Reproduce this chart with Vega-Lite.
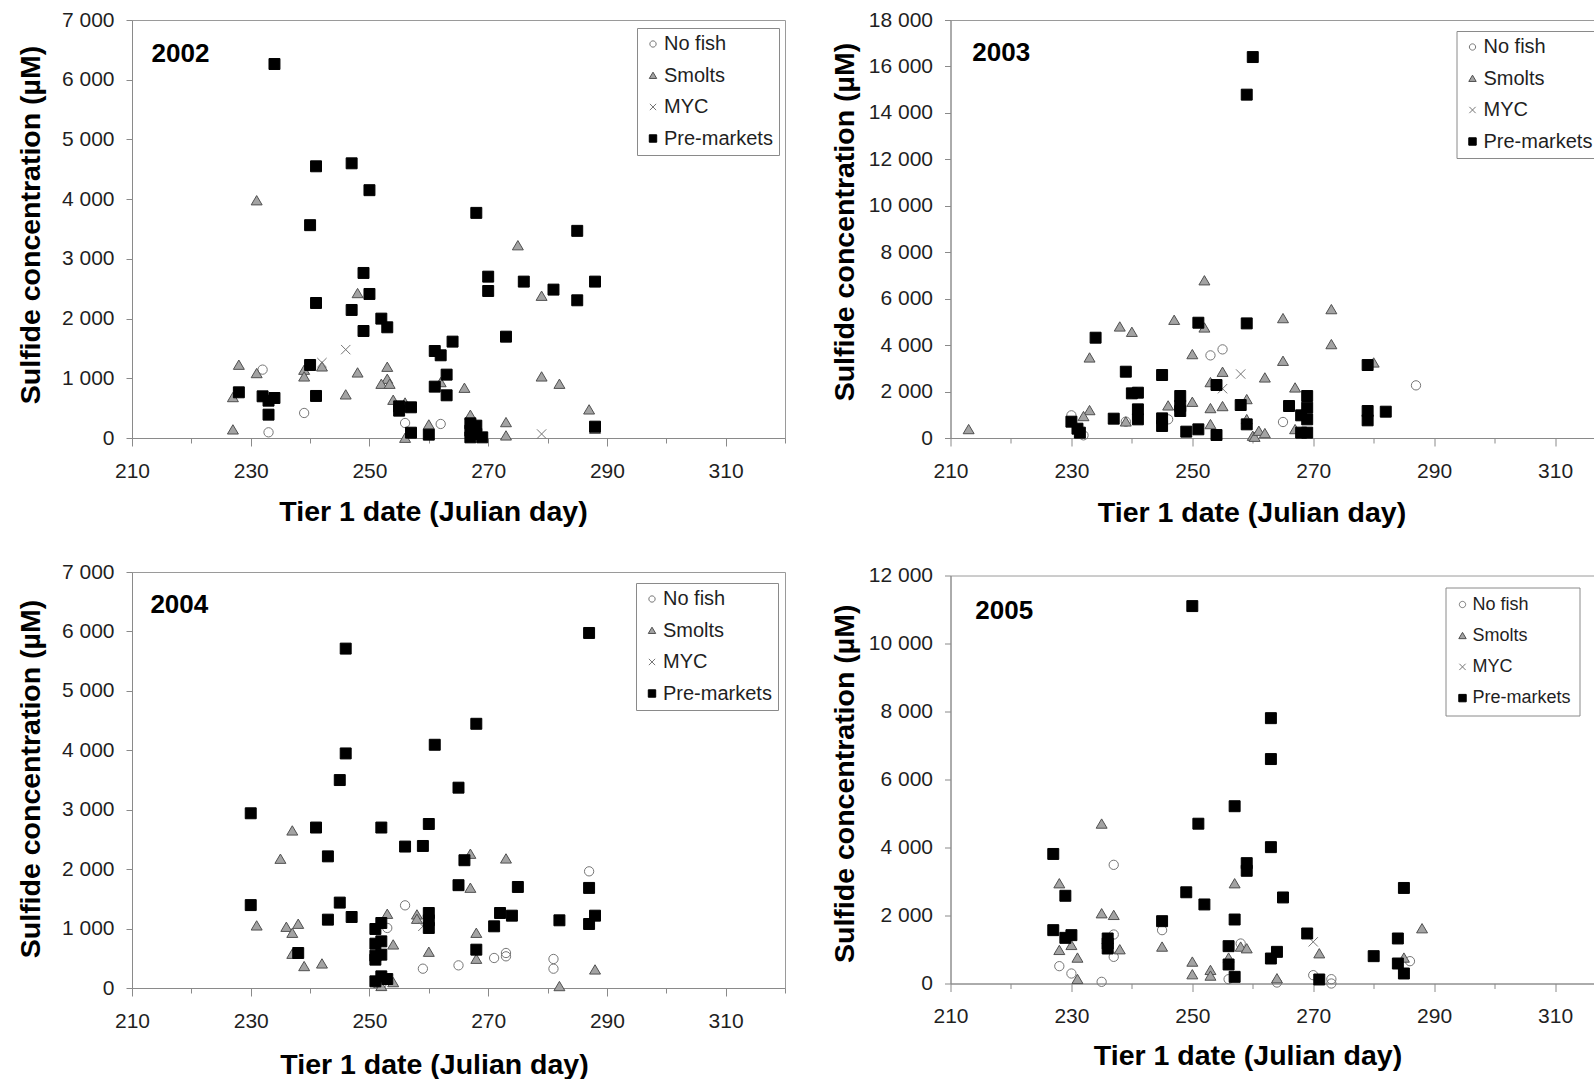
{
  "$schema": "https://vega.github.io/schema/vega-lite/v6.json",
  "background": "white",
  "padding": {"left": 15, "top": 8, "right": 0, "bottom": 0},
  "data": {
    "values": [
      {"year": 2002, "group": "No fish", "day": 232, "sulfide": 1145},
      {"year": 2002, "group": "No fish", "day": 233, "sulfide": 95},
      {"year": 2002, "group": "No fish", "day": 239, "sulfide": 419},
      {"year": 2002, "group": "No fish", "day": 256, "sulfide": 251},
      {"year": 2002, "group": "No fish", "day": 262, "sulfide": 235},
      {"year": 2002, "group": "Smolts", "day": 231, "sulfide": 3977},
      {"year": 2002, "group": "Smolts", "day": 275, "sulfide": 3224},
      {"year": 2002, "group": "Smolts", "day": 228, "sulfide": 1223},
      {"year": 2002, "group": "Smolts", "day": 227, "sulfide": 681},
      {"year": 2002, "group": "Smolts", "day": 227, "sulfide": 140},
      {"year": 2002, "group": "Smolts", "day": 231, "sulfide": 1083},
      {"year": 2002, "group": "Smolts", "day": 239, "sulfide": 1139},
      {"year": 2002, "group": "Smolts", "day": 239, "sulfide": 1027},
      {"year": 2002, "group": "Smolts", "day": 242, "sulfide": 1195},
      {"year": 2002, "group": "Smolts", "day": 248, "sulfide": 2423},
      {"year": 2002, "group": "Smolts", "day": 248, "sulfide": 1094},
      {"year": 2002, "group": "Smolts", "day": 246, "sulfide": 726},
      {"year": 2002, "group": "Smolts", "day": 253, "sulfide": 1189},
      {"year": 2002, "group": "Smolts", "day": 253, "sulfide": 988},
      {"year": 2002, "group": "Smolts", "day": 252, "sulfide": 904},
      {"year": 2002, "group": "Smolts", "day": 253.4, "sulfide": 904},
      {"year": 2002, "group": "Smolts", "day": 254, "sulfide": 636},
      {"year": 2002, "group": "Smolts", "day": 256, "sulfide": 590},
      {"year": 2002, "group": "Smolts", "day": 256, "sulfide": 0},
      {"year": 2002, "group": "Smolts", "day": 260, "sulfide": 223},
      {"year": 2002, "group": "Smolts", "day": 262, "sulfide": 932},
      {"year": 2002, "group": "Smolts", "day": 266, "sulfide": 837},
      {"year": 2002, "group": "Smolts", "day": 267, "sulfide": 385},
      {"year": 2002, "group": "Smolts", "day": 273, "sulfide": 262},
      {"year": 2002, "group": "Smolts", "day": 273, "sulfide": 39},
      {"year": 2002, "group": "Smolts", "day": 279, "sulfide": 2378},
      {"year": 2002, "group": "Smolts", "day": 279, "sulfide": 1027},
      {"year": 2002, "group": "Smolts", "day": 282, "sulfide": 904},
      {"year": 2002, "group": "Smolts", "day": 287, "sulfide": 475},
      {"year": 2002, "group": "Smolts", "day": 288, "sulfide": 151},
      {"year": 2002, "group": "MYC", "day": 246, "sulfide": 1480},
      {"year": 2002, "group": "MYC", "day": 242, "sulfide": 1262},
      {"year": 2002, "group": "MYC", "day": 279, "sulfide": 67},
      {"year": 2002, "group": "Pre-markets", "day": 234, "sulfide": 6263},
      {"year": 2002, "group": "Pre-markets", "day": 241, "sulfide": 4550},
      {"year": 2002, "group": "Pre-markets", "day": 247, "sulfide": 4600},
      {"year": 2002, "group": "Pre-markets", "day": 250, "sulfide": 4150},
      {"year": 2002, "group": "Pre-markets", "day": 240, "sulfide": 3564},
      {"year": 2002, "group": "Pre-markets", "day": 268, "sulfide": 3770},
      {"year": 2002, "group": "Pre-markets", "day": 285, "sulfide": 3469},
      {"year": 2002, "group": "Pre-markets", "day": 249, "sulfide": 2764},
      {"year": 2002, "group": "Pre-markets", "day": 250, "sulfide": 2412},
      {"year": 2002, "group": "Pre-markets", "day": 241, "sulfide": 2261},
      {"year": 2002, "group": "Pre-markets", "day": 247, "sulfide": 2144},
      {"year": 2002, "group": "Pre-markets", "day": 252, "sulfide": 1999},
      {"year": 2002, "group": "Pre-markets", "day": 253, "sulfide": 1854},
      {"year": 2002, "group": "Pre-markets", "day": 249, "sulfide": 1792},
      {"year": 2002, "group": "Pre-markets", "day": 270, "sulfide": 2702},
      {"year": 2002, "group": "Pre-markets", "day": 270, "sulfide": 2462},
      {"year": 2002, "group": "Pre-markets", "day": 276, "sulfide": 2619},
      {"year": 2002, "group": "Pre-markets", "day": 281, "sulfide": 2485},
      {"year": 2002, "group": "Pre-markets", "day": 285, "sulfide": 2306},
      {"year": 2002, "group": "Pre-markets", "day": 288, "sulfide": 2619},
      {"year": 2002, "group": "Pre-markets", "day": 273, "sulfide": 1697},
      {"year": 2002, "group": "Pre-markets", "day": 264, "sulfide": 1614},
      {"year": 2002, "group": "Pre-markets", "day": 261, "sulfide": 1457},
      {"year": 2002, "group": "Pre-markets", "day": 262, "sulfide": 1385},
      {"year": 2002, "group": "Pre-markets", "day": 263, "sulfide": 1061},
      {"year": 2002, "group": "Pre-markets", "day": 261, "sulfide": 860},
      {"year": 2002, "group": "Pre-markets", "day": 263, "sulfide": 715},
      {"year": 2002, "group": "Pre-markets", "day": 240, "sulfide": 1223},
      {"year": 2002, "group": "Pre-markets", "day": 241, "sulfide": 704},
      {"year": 2002, "group": "Pre-markets", "day": 228, "sulfide": 765},
      {"year": 2002, "group": "Pre-markets", "day": 232, "sulfide": 698},
      {"year": 2002, "group": "Pre-markets", "day": 233, "sulfide": 625},
      {"year": 2002, "group": "Pre-markets", "day": 234, "sulfide": 670},
      {"year": 2002, "group": "Pre-markets", "day": 233, "sulfide": 391},
      {"year": 2002, "group": "Pre-markets", "day": 255, "sulfide": 530},
      {"year": 2002, "group": "Pre-markets", "day": 255, "sulfide": 458},
      {"year": 2002, "group": "Pre-markets", "day": 257, "sulfide": 514},
      {"year": 2002, "group": "Pre-markets", "day": 257, "sulfide": 89},
      {"year": 2002, "group": "Pre-markets", "day": 260, "sulfide": 56},
      {"year": 2002, "group": "Pre-markets", "day": 267, "sulfide": 246},
      {"year": 2002, "group": "Pre-markets", "day": 267, "sulfide": 123},
      {"year": 2002, "group": "Pre-markets", "day": 267, "sulfide": 11},
      {"year": 2002, "group": "Pre-markets", "day": 268, "sulfide": 207},
      {"year": 2002, "group": "Pre-markets", "day": 268, "sulfide": 67},
      {"year": 2002, "group": "Pre-markets", "day": 269, "sulfide": 11},
      {"year": 2002, "group": "Pre-markets", "day": 288, "sulfide": 190},

      {"year": 2003, "group": "No fish", "day": 230, "sulfide": 976},
      {"year": 2003, "group": "No fish", "day": 231, "sulfide": 373},
      {"year": 2003, "group": "No fish", "day": 232, "sulfide": 115},
      {"year": 2003, "group": "No fish", "day": 239, "sulfide": 703},
      {"year": 2003, "group": "No fish", "day": 246, "sulfide": 803},
      {"year": 2003, "group": "No fish", "day": 253, "sulfide": 3558},
      {"year": 2003, "group": "No fish", "day": 255, "sulfide": 3816},
      {"year": 2003, "group": "No fish", "day": 265, "sulfide": 689},
      {"year": 2003, "group": "No fish", "day": 287, "sulfide": 2267},
      {"year": 2003, "group": "Smolts", "day": 213, "sulfide": 373},
      {"year": 2003, "group": "Smolts", "day": 233, "sulfide": 3458},
      {"year": 2003, "group": "Smolts", "day": 233, "sulfide": 1191},
      {"year": 2003, "group": "Smolts", "day": 232, "sulfide": 933},
      {"year": 2003, "group": "Smolts", "day": 238, "sulfide": 4792},
      {"year": 2003, "group": "Smolts", "day": 240, "sulfide": 4562},
      {"year": 2003, "group": "Smolts", "day": 239, "sulfide": 703},
      {"year": 2003, "group": "Smolts", "day": 247, "sulfide": 5079},
      {"year": 2003, "group": "Smolts", "day": 246, "sulfide": 1392},
      {"year": 2003, "group": "Smolts", "day": 250, "sulfide": 3601},
      {"year": 2003, "group": "Smolts", "day": 250, "sulfide": 1549},
      {"year": 2003, "group": "Smolts", "day": 252, "sulfide": 6780},
      {"year": 2003, "group": "Smolts", "day": 252, "sulfide": 4749},
      {"year": 2003, "group": "Smolts", "day": 253, "sulfide": 2396},
      {"year": 2003, "group": "Smolts", "day": 253, "sulfide": 1277},
      {"year": 2003, "group": "Smolts", "day": 253, "sulfide": 588},
      {"year": 2003, "group": "Smolts", "day": 255, "sulfide": 2841},
      {"year": 2003, "group": "Smolts", "day": 255, "sulfide": 1363},
      {"year": 2003, "group": "Smolts", "day": 259, "sulfide": 1664},
      {"year": 2003, "group": "Smolts", "day": 259, "sulfide": 803},
      {"year": 2003, "group": "Smolts", "day": 260, "sulfide": 86},
      {"year": 2003, "group": "Smolts", "day": 260.3, "sulfide": 43},
      {"year": 2003, "group": "Smolts", "day": 261, "sulfide": 301},
      {"year": 2003, "group": "Smolts", "day": 262, "sulfide": 201},
      {"year": 2003, "group": "Smolts", "day": 262, "sulfide": 2597},
      {"year": 2003, "group": "Smolts", "day": 265, "sulfide": 5151},
      {"year": 2003, "group": "Smolts", "day": 265, "sulfide": 3314},
      {"year": 2003, "group": "Smolts", "day": 267, "sulfide": 2166},
      {"year": 2003, "group": "Smolts", "day": 267, "sulfide": 373},
      {"year": 2003, "group": "Smolts", "day": 273, "sulfide": 5538},
      {"year": 2003, "group": "Smolts", "day": 273, "sulfide": 4032},
      {"year": 2003, "group": "Smolts", "day": 280, "sulfide": 3242},
      {"year": 2003, "group": "MYC", "day": 258, "sulfide": 2755},
      {"year": 2003, "group": "MYC", "day": 255, "sulfide": 2123},
      {"year": 2003, "group": "Pre-markets", "day": 260, "sulfide": 16404},
      {"year": 2003, "group": "Pre-markets", "day": 259, "sulfide": 14785},
      {"year": 2003, "group": "Pre-markets", "day": 234, "sulfide": 4319},
      {"year": 2003, "group": "Pre-markets", "day": 239, "sulfide": 2855},
      {"year": 2003, "group": "Pre-markets", "day": 245, "sulfide": 2712},
      {"year": 2003, "group": "Pre-markets", "day": 240, "sulfide": 1923},
      {"year": 2003, "group": "Pre-markets", "day": 241, "sulfide": 1951},
      {"year": 2003, "group": "Pre-markets", "day": 241, "sulfide": 1234},
      {"year": 2003, "group": "Pre-markets", "day": 241, "sulfide": 803},
      {"year": 2003, "group": "Pre-markets", "day": 237, "sulfide": 832},
      {"year": 2003, "group": "Pre-markets", "day": 230, "sulfide": 703},
      {"year": 2003, "group": "Pre-markets", "day": 231, "sulfide": 402},
      {"year": 2003, "group": "Pre-markets", "day": 231.4, "sulfide": 230},
      {"year": 2003, "group": "Pre-markets", "day": 245, "sulfide": 846},
      {"year": 2003, "group": "Pre-markets", "day": 245, "sulfide": 517},
      {"year": 2003, "group": "Pre-markets", "day": 248, "sulfide": 1808},
      {"year": 2003, "group": "Pre-markets", "day": 248, "sulfide": 1377},
      {"year": 2003, "group": "Pre-markets", "day": 248, "sulfide": 1162},
      {"year": 2003, "group": "Pre-markets", "day": 249, "sulfide": 273},
      {"year": 2003, "group": "Pre-markets", "day": 251, "sulfide": 373},
      {"year": 2003, "group": "Pre-markets", "day": 251, "sulfide": 4964},
      {"year": 2003, "group": "Pre-markets", "day": 254, "sulfide": 2281},
      {"year": 2003, "group": "Pre-markets", "day": 254, "sulfide": 129},
      {"year": 2003, "group": "Pre-markets", "day": 259, "sulfide": 4935},
      {"year": 2003, "group": "Pre-markets", "day": 258, "sulfide": 1420},
      {"year": 2003, "group": "Pre-markets", "day": 259, "sulfide": 588},
      {"year": 2003, "group": "Pre-markets", "day": 266, "sulfide": 1377},
      {"year": 2003, "group": "Pre-markets", "day": 268, "sulfide": 976},
      {"year": 2003, "group": "Pre-markets", "day": 268, "sulfide": 230},
      {"year": 2003, "group": "Pre-markets", "day": 269, "sulfide": 1808},
      {"year": 2003, "group": "Pre-markets", "day": 269, "sulfide": 1306},
      {"year": 2003, "group": "Pre-markets", "day": 269, "sulfide": 803},
      {"year": 2003, "group": "Pre-markets", "day": 269, "sulfide": 230},
      {"year": 2003, "group": "Pre-markets", "day": 279, "sulfide": 3142},
      {"year": 2003, "group": "Pre-markets", "day": 279, "sulfide": 1162},
      {"year": 2003, "group": "Pre-markets", "day": 279, "sulfide": 760},
      {"year": 2003, "group": "Pre-markets", "day": 282, "sulfide": 1133},

      {"year": 2004, "group": "No fish", "day": 256, "sulfide": 1391},
      {"year": 2004, "group": "No fish", "day": 253, "sulfide": 1010},
      {"year": 2004, "group": "No fish", "day": 259, "sulfide": 325},
      {"year": 2004, "group": "No fish", "day": 265, "sulfide": 381},
      {"year": 2004, "group": "No fish", "day": 271, "sulfide": 505},
      {"year": 2004, "group": "No fish", "day": 273, "sulfide": 589},
      {"year": 2004, "group": "No fish", "day": 273, "sulfide": 533},
      {"year": 2004, "group": "No fish", "day": 281, "sulfide": 488},
      {"year": 2004, "group": "No fish", "day": 281, "sulfide": 325},
      {"year": 2004, "group": "No fish", "day": 287, "sulfide": 1963},
      {"year": 2004, "group": "No fish", "day": 251, "sulfide": 84},
      {"year": 2004, "group": "No fish", "day": 252, "sulfide": 56},
      {"year": 2004, "group": "Smolts", "day": 237, "sulfide": 2647},
      {"year": 2004, "group": "Smolts", "day": 235, "sulfide": 2171},
      {"year": 2004, "group": "Smolts", "day": 267, "sulfide": 2255},
      {"year": 2004, "group": "Smolts", "day": 273, "sulfide": 2176},
      {"year": 2004, "group": "Smolts", "day": 267, "sulfide": 1683},
      {"year": 2004, "group": "Smolts", "day": 231, "sulfide": 1049},
      {"year": 2004, "group": "Smolts", "day": 236, "sulfide": 1026},
      {"year": 2004, "group": "Smolts", "day": 238, "sulfide": 1077},
      {"year": 2004, "group": "Smolts", "day": 237, "sulfide": 925},
      {"year": 2004, "group": "Smolts", "day": 237, "sulfide": 572},
      {"year": 2004, "group": "Smolts", "day": 239, "sulfide": 365},
      {"year": 2004, "group": "Smolts", "day": 242, "sulfide": 409},
      {"year": 2004, "group": "Smolts", "day": 253, "sulfide": 1245},
      {"year": 2004, "group": "Smolts", "day": 258, "sulfide": 1234},
      {"year": 2004, "group": "Smolts", "day": 258, "sulfide": 1161},
      {"year": 2004, "group": "Smolts", "day": 254, "sulfide": 729},
      {"year": 2004, "group": "Smolts", "day": 260, "sulfide": 606},
      {"year": 2004, "group": "Smolts", "day": 268, "sulfide": 925},
      {"year": 2004, "group": "Smolts", "day": 268, "sulfide": 488},
      {"year": 2004, "group": "Smolts", "day": 282, "sulfide": 28},
      {"year": 2004, "group": "Smolts", "day": 288, "sulfide": 308},
      {"year": 2004, "group": "Smolts", "day": 254, "sulfide": 95},
      {"year": 2004, "group": "Smolts", "day": 252, "sulfide": 30},
      {"year": 2004, "group": "MYC", "day": 259, "sulfide": 1038},
      {"year": 2004, "group": "Pre-markets", "day": 287, "sulfide": 5974},
      {"year": 2004, "group": "Pre-markets", "day": 246, "sulfide": 5711},
      {"year": 2004, "group": "Pre-markets", "day": 268, "sulfide": 4446},
      {"year": 2004, "group": "Pre-markets", "day": 261, "sulfide": 4093},
      {"year": 2004, "group": "Pre-markets", "day": 246, "sulfide": 3947},
      {"year": 2004, "group": "Pre-markets", "day": 245, "sulfide": 3499},
      {"year": 2004, "group": "Pre-markets", "day": 265, "sulfide": 3371},
      {"year": 2004, "group": "Pre-markets", "day": 230, "sulfide": 2940},
      {"year": 2004, "group": "Pre-markets", "day": 260, "sulfide": 2760},
      {"year": 2004, "group": "Pre-markets", "day": 241, "sulfide": 2700},
      {"year": 2004, "group": "Pre-markets", "day": 252, "sulfide": 2700},
      {"year": 2004, "group": "Pre-markets", "day": 256, "sulfide": 2380},
      {"year": 2004, "group": "Pre-markets", "day": 259, "sulfide": 2390},
      {"year": 2004, "group": "Pre-markets", "day": 243, "sulfide": 2215},
      {"year": 2004, "group": "Pre-markets", "day": 266, "sulfide": 2150},
      {"year": 2004, "group": "Pre-markets", "day": 265, "sulfide": 1730},
      {"year": 2004, "group": "Pre-markets", "day": 275, "sulfide": 1700},
      {"year": 2004, "group": "Pre-markets", "day": 287, "sulfide": 1684},
      {"year": 2004, "group": "Pre-markets", "day": 230, "sulfide": 1395},
      {"year": 2004, "group": "Pre-markets", "day": 245, "sulfide": 1437},
      {"year": 2004, "group": "Pre-markets", "day": 243, "sulfide": 1150},
      {"year": 2004, "group": "Pre-markets", "day": 247, "sulfide": 1195},
      {"year": 2004, "group": "Pre-markets", "day": 251, "sulfide": 993},
      {"year": 2004, "group": "Pre-markets", "day": 252, "sulfide": 1094},
      {"year": 2004, "group": "Pre-markets", "day": 251, "sulfide": 746},
      {"year": 2004, "group": "Pre-markets", "day": 252, "sulfide": 785},
      {"year": 2004, "group": "Pre-markets", "day": 251, "sulfide": 544},
      {"year": 2004, "group": "Pre-markets", "day": 252, "sulfide": 561},
      {"year": 2004, "group": "Pre-markets", "day": 251, "sulfide": 477},
      {"year": 2004, "group": "Pre-markets", "day": 251, "sulfide": 112},
      {"year": 2004, "group": "Pre-markets", "day": 252, "sulfide": 196},
      {"year": 2004, "group": "Pre-markets", "day": 253, "sulfide": 151},
      {"year": 2004, "group": "Pre-markets", "day": 260, "sulfide": 1262},
      {"year": 2004, "group": "Pre-markets", "day": 260, "sulfide": 1139},
      {"year": 2004, "group": "Pre-markets", "day": 260, "sulfide": 1010},
      {"year": 2004, "group": "Pre-markets", "day": 272, "sulfide": 1262},
      {"year": 2004, "group": "Pre-markets", "day": 274, "sulfide": 1217},
      {"year": 2004, "group": "Pre-markets", "day": 271, "sulfide": 1038},
      {"year": 2004, "group": "Pre-markets", "day": 282, "sulfide": 1139},
      {"year": 2004, "group": "Pre-markets", "day": 287, "sulfide": 1077},
      {"year": 2004, "group": "Pre-markets", "day": 288, "sulfide": 1217},
      {"year": 2004, "group": "Pre-markets", "day": 268, "sulfide": 645},
      {"year": 2004, "group": "Pre-markets", "day": 238, "sulfide": 589},

      {"year": 2005, "group": "No fish", "day": 237, "sulfide": 3490},
      {"year": 2005, "group": "No fish", "day": 245, "sulfide": 1569},
      {"year": 2005, "group": "No fish", "day": 237, "sulfide": 1441},
      {"year": 2005, "group": "No fish", "day": 237, "sulfide": 784},
      {"year": 2005, "group": "No fish", "day": 228, "sulfide": 510},
      {"year": 2005, "group": "No fish", "day": 230, "sulfide": 294},
      {"year": 2005, "group": "No fish", "day": 235, "sulfide": 49},
      {"year": 2005, "group": "No fish", "day": 258, "sulfide": 1176},
      {"year": 2005, "group": "No fish", "day": 256, "sulfide": 127},
      {"year": 2005, "group": "No fish", "day": 264, "sulfide": 29},
      {"year": 2005, "group": "No fish", "day": 270, "sulfide": 245},
      {"year": 2005, "group": "No fish", "day": 273, "sulfide": 127},
      {"year": 2005, "group": "No fish", "day": 273, "sulfide": 0},
      {"year": 2005, "group": "No fish", "day": 286, "sulfide": 657},
      {"year": 2005, "group": "Smolts", "day": 235, "sulfide": 4696},
      {"year": 2005, "group": "Smolts", "day": 257, "sulfide": 2941},
      {"year": 2005, "group": "Smolts", "day": 228, "sulfide": 2941},
      {"year": 2005, "group": "Smolts", "day": 235, "sulfide": 2059},
      {"year": 2005, "group": "Smolts", "day": 237, "sulfide": 2010},
      {"year": 2005, "group": "Smolts", "day": 245, "sulfide": 1078},
      {"year": 2005, "group": "Smolts", "day": 228, "sulfide": 980},
      {"year": 2005, "group": "Smolts", "day": 230, "sulfide": 1127},
      {"year": 2005, "group": "Smolts", "day": 231, "sulfide": 755},
      {"year": 2005, "group": "Smolts", "day": 238, "sulfide": 1000},
      {"year": 2005, "group": "Smolts", "day": 258, "sulfide": 1078},
      {"year": 2005, "group": "Smolts", "day": 259, "sulfide": 1029},
      {"year": 2005, "group": "Smolts", "day": 256, "sulfide": 755},
      {"year": 2005, "group": "Smolts", "day": 271, "sulfide": 882},
      {"year": 2005, "group": "Smolts", "day": 288, "sulfide": 1618},
      {"year": 2005, "group": "Smolts", "day": 250, "sulfide": 637},
      {"year": 2005, "group": "Smolts", "day": 250, "sulfide": 265},
      {"year": 2005, "group": "Smolts", "day": 253, "sulfide": 392},
      {"year": 2005, "group": "Smolts", "day": 253, "sulfide": 225},
      {"year": 2005, "group": "Smolts", "day": 264, "sulfide": 147},
      {"year": 2005, "group": "Smolts", "day": 231, "sulfide": 127},
      {"year": 2005, "group": "Smolts", "day": 285, "sulfide": 755},
      {"year": 2005, "group": "MYC", "day": 270, "sulfide": 1225},
      {"year": 2005, "group": "Pre-markets", "day": 250, "sulfide": 11100},
      {"year": 2005, "group": "Pre-markets", "day": 263, "sulfide": 7804},
      {"year": 2005, "group": "Pre-markets", "day": 263, "sulfide": 6601},
      {"year": 2005, "group": "Pre-markets", "day": 257, "sulfide": 5214},
      {"year": 2005, "group": "Pre-markets", "day": 251, "sulfide": 4700},
      {"year": 2005, "group": "Pre-markets", "day": 263, "sulfide": 4010},
      {"year": 2005, "group": "Pre-markets", "day": 227, "sulfide": 3810},
      {"year": 2005, "group": "Pre-markets", "day": 259, "sulfide": 3540},
      {"year": 2005, "group": "Pre-markets", "day": 259, "sulfide": 3315},
      {"year": 2005, "group": "Pre-markets", "day": 285, "sulfide": 2810},
      {"year": 2005, "group": "Pre-markets", "day": 229, "sulfide": 2580},
      {"year": 2005, "group": "Pre-markets", "day": 249, "sulfide": 2683},
      {"year": 2005, "group": "Pre-markets", "day": 252, "sulfide": 2325},
      {"year": 2005, "group": "Pre-markets", "day": 265, "sulfide": 2531},
      {"year": 2005, "group": "Pre-markets", "day": 245, "sulfide": 1833},
      {"year": 2005, "group": "Pre-markets", "day": 257, "sulfide": 1882},
      {"year": 2005, "group": "Pre-markets", "day": 227, "sulfide": 1569},
      {"year": 2005, "group": "Pre-markets", "day": 229, "sulfide": 1343},
      {"year": 2005, "group": "Pre-markets", "day": 230, "sulfide": 1422},
      {"year": 2005, "group": "Pre-markets", "day": 236, "sulfide": 1324},
      {"year": 2005, "group": "Pre-markets", "day": 236, "sulfide": 1176},
      {"year": 2005, "group": "Pre-markets", "day": 236, "sulfide": 1029},
      {"year": 2005, "group": "Pre-markets", "day": 269, "sulfide": 1471},
      {"year": 2005, "group": "Pre-markets", "day": 284, "sulfide": 1324},
      {"year": 2005, "group": "Pre-markets", "day": 256, "sulfide": 1098},
      {"year": 2005, "group": "Pre-markets", "day": 256, "sulfide": 559},
      {"year": 2005, "group": "Pre-markets", "day": 257, "sulfide": 196},
      {"year": 2005, "group": "Pre-markets", "day": 264, "sulfide": 931},
      {"year": 2005, "group": "Pre-markets", "day": 263, "sulfide": 735},
      {"year": 2005, "group": "Pre-markets", "day": 280, "sulfide": 804},
      {"year": 2005, "group": "Pre-markets", "day": 284, "sulfide": 588},
      {"year": 2005, "group": "Pre-markets", "day": 285, "sulfide": 294},
      {"year": 2005, "group": "Pre-markets", "day": 271, "sulfide": 118}
    ]
  },
  "spacing": 43.5,
  "resolve": {
    "scale": {"shape": "independent", "fill": "independent", "stroke": "independent"},
    "legend": {"shape": "independent", "fill": "independent", "stroke": "independent"}
  },
  "hconcat": [
    {
      "spacing": 34,
      "resolve": {
        "scale": {"shape": "independent", "fill": "independent", "stroke": "independent"},
        "legend": {"shape": "independent", "fill": "independent", "stroke": "independent"}
      },
      "vconcat": [
        {
          "width": 653,
          "height": 418,
          "layer": [
            {
              "transform": [{"filter": "datum.year == 2002"}],
              "mark": {"type": "point", "size": 120, "strokeWidth": 1, "opacity": 1},
              "encoding": {
                "x": {"field": "day", "type": "quantitative", "scale": {"domain": [210, 320], "nice": false, "zero": false},
                  "axis": {"title": "Tier 1 date (Julian day)", "titleX": 301, "titleY": 73, "titleBaseline": "middle",
                    "values": [210,215,220,225,230,235,240,245,250,255,260,265,270,275,280,285,290,295,300,305,310,315,320],
                    "labelExpr": "datum.value % 20 == 10 ? datum.label : ''",
                    "tickSize": {"condition": {"test": "datum.value % 20 == 10", "value": 8}, "value": 5}}},
                "y": {"field": "sulfide", "type": "quantitative", "scale": {"domain": [0, 7000], "nice": false},
                  "axis": {"title": "Sulfide concentration (µM)", "titleX": -101.5, "titleY": 204.5, "titleBaseline": "middle",
                    "values": [0,1000,2000,3000,4000,5000,6000,7000], "format": ",d"}},
                "shape": {"field": "group", "type": "nominal",
                  "scale": {"domain": ["No fish", "Smolts", "MYC", "Pre-markets"], "range": ["M-0.85,0A0.85,0.85,0,1,0,0.85,0A0.85,0.85,0,1,0,-0.85,0Z", "M0,-0.9L1,0.8L-1,0.8Z", "M-0.85,-0.85L0.85,0.85M0.85,-0.85L-0.85,0.85", "M-1,-1H1V1H-1Z"]},
                  "legend": {"title": null, "orient": "none", "legendX": 505, "legendY": 8}},
                "fill": {"field": "group", "type": "nominal", "scale": {"domain": ["No fish", "Smolts", "MYC", "Pre-markets"], "range": ["transparent", "#a3a3a3", "transparent", "#000000"]}},
                "stroke": {"field": "group", "type": "nominal", "scale": {"domain": ["No fish", "Smolts", "MYC", "Pre-markets"], "range": ["#767676", "#505050", "#767676", "#000000"]}}
              }
            },
            {
              "data": {"values": [{"label": "2002"}]},
              "mark": {"type": "text", "fontSize": 26, "fontWeight": "bold", "align": "left", "baseline": "middle"},
              "encoding": {"x": {"datum": 213.3, "type": "quantitative"}, "y": {"datum": 6430, "type": "quantitative"}, "text": {"field": "label"}}
            }
          ]
        },
        {
          "width": 653,
          "height": 416,
          "layer": [
            {
              "transform": [{"filter": "datum.year == 2004"}],
              "mark": {"type": "point", "size": 120, "strokeWidth": 1, "opacity": 1},
              "encoding": {
                "x": {"field": "day", "type": "quantitative", "scale": {"domain": [210, 320], "nice": false, "zero": false},
                  "axis": {"title": "Tier 1 date (Julian day)", "titleX": 302, "titleY": 76, "titleBaseline": "middle",
                    "values": [210,215,220,225,230,235,240,245,250,255,260,265,270,275,280,285,290,295,300,305,310,315,320],
                    "labelExpr": "datum.value % 20 == 10 ? datum.label : ''",
                    "tickSize": {"condition": {"test": "datum.value % 20 == 10", "value": 8}, "value": 5}}},
                "y": {"field": "sulfide", "type": "quantitative", "scale": {"domain": [0, 7000], "nice": false},
                  "axis": {"title": "Sulfide concentration (µM)", "titleX": -101.5, "titleY": 206.5, "titleBaseline": "middle",
                    "values": [0,1000,2000,3000,4000,5000,6000,7000], "format": ",d"}},
                "shape": {"field": "group", "type": "nominal",
                  "scale": {"domain": ["No fish", "Smolts", "MYC", "Pre-markets"], "range": ["M-0.85,0A0.85,0.85,0,1,0,0.85,0A0.85,0.85,0,1,0,-0.85,0Z", "M0,-0.9L1,0.8L-1,0.8Z", "M-0.85,-0.85L0.85,0.85M0.85,-0.85L-0.85,0.85", "M-1,-1H1V1H-1Z"]},
                  "legend": {"title": null, "orient": "none", "legendX": 504, "legendY": 11}},
                "fill": {"field": "group", "type": "nominal", "scale": {"domain": ["No fish", "Smolts", "MYC", "Pre-markets"], "range": ["transparent", "#a3a3a3", "transparent", "#000000"]}},
                "stroke": {"field": "group", "type": "nominal", "scale": {"domain": ["No fish", "Smolts", "MYC", "Pre-markets"], "range": ["#767676", "#505050", "#767676", "#000000"]}}
              }
            },
            {
              "data": {"values": [{"label": "2004"}]},
              "mark": {"type": "text", "fontSize": 26, "fontWeight": "bold", "align": "left", "baseline": "middle"},
              "encoding": {"x": {"datum": 213.1, "type": "quantitative"}, "y": {"datum": 6445, "type": "quantitative"}, "text": {"field": "label"}}
            }
          ]
        }
      ]
    },
    {
      "spacing": 36.5,
      "resolve": {
        "scale": {"shape": "independent", "fill": "independent", "stroke": "independent"},
        "legend": {"shape": "independent", "fill": "independent", "stroke": "independent"}
      },
      "vconcat": [
        {
          "width": 665,
          "height": 418,
          "layer": [
            {
              "transform": [{"filter": "datum.year == 2003"}],
              "mark": {"type": "point", "size": 120, "strokeWidth": 1, "opacity": 1},
              "encoding": {
                "x": {"field": "day", "type": "quantitative", "scale": {"domain": [210, 320], "nice": false, "zero": false},
                  "axis": {"title": "Tier 1 date (Julian day)", "titleX": 301, "titleY": 74, "titleBaseline": "middle",
                    "values": [210,215,220,225,230,235,240,245,250,255,260,265,270,275,280,285,290,295,300,305,310,315,320],
                    "labelExpr": "datum.value % 20 == 10 ? datum.label : ''",
                    "tickSize": {"condition": {"test": "datum.value % 20 == 10", "value": 8}, "value": 5}}},
                "y": {"field": "sulfide", "type": "quantitative", "scale": {"domain": [0, 18000], "nice": false},
                  "axis": {"title": "Sulfide concentration (µM)", "titleX": -105.7, "titleY": 201.6, "titleBaseline": "middle",
                    "values": [0,1000,2000,3000,4000,5000,6000,7000,8000,9000,10000,11000,12000,13000,14000,15000,16000,17000,18000], "format": ",d",
                    "labelExpr": "datum.value % 2000 == 0 ? datum.label : ''"}},
                "shape": {"field": "group", "type": "nominal",
                  "scale": {"domain": ["No fish", "Smolts", "MYC", "Pre-markets"], "range": ["M-0.85,0A0.85,0.85,0,1,0,0.85,0A0.85,0.85,0,1,0,-0.85,0Z", "M0,-0.9L1,0.8L-1,0.8Z", "M-0.85,-0.85L0.85,0.85M0.85,-0.85L-0.85,0.85", "M-1,-1H1V1H-1Z"]},
                  "legend": {"title": null, "orient": "none", "legendX": 506, "legendY": 11}},
                "fill": {"field": "group", "type": "nominal", "scale": {"domain": ["No fish", "Smolts", "MYC", "Pre-markets"], "range": ["transparent", "#a3a3a3", "transparent", "#000000"]}},
                "stroke": {"field": "group", "type": "nominal", "scale": {"domain": ["No fish", "Smolts", "MYC", "Pre-markets"], "range": ["#767676", "#505050", "#767676", "#000000"]}}
              }
            },
            {
              "data": {"values": [{"label": "2003"}]},
              "mark": {"type": "text", "fontSize": 26, "fontWeight": "bold", "align": "left", "baseline": "middle"},
              "encoding": {"x": {"datum": 213.6, "type": "quantitative"}, "y": {"datum": 16580, "type": "quantitative"}, "text": {"field": "label"}}
            }
          ]
        },
        {
          "width": 665,
          "height": 408,
          "layer": [
            {
              "transform": [{"filter": "datum.year == 2005"}],
              "mark": {"type": "point", "size": 120, "strokeWidth": 1, "opacity": 1},
              "encoding": {
                "x": {"field": "day", "type": "quantitative", "scale": {"domain": [210, 320], "nice": false, "zero": false},
                  "axis": {"title": "Tier 1 date (Julian day)", "titleX": 297, "titleY": 72, "titleBaseline": "middle",
                    "values": [210,215,220,225,230,235,240,245,250,255,260,265,270,275,280,285,290,295,300,305,310,315,320],
                    "labelExpr": "datum.value % 20 == 10 ? datum.label : ''",
                    "tickSize": {"condition": {"test": "datum.value % 20 == 10", "value": 8}, "value": 5}}},
                "y": {"field": "sulfide", "type": "quantitative", "scale": {"domain": [0, 12000], "nice": false},
                  "axis": {"title": "Sulfide concentration (µM)", "titleX": -105.7, "titleY": 207.8, "titleBaseline": "middle",
                    "values": [0,1000,2000,3000,4000,5000,6000,7000,8000,9000,10000,11000,12000], "format": ",d",
                    "labelExpr": "datum.value % 2000 == 0 ? datum.label : ''"}},
                "shape": {"field": "group", "type": "nominal",
                  "scale": {"domain": ["No fish", "Smolts", "MYC", "Pre-markets"], "range": ["M-0.85,0A0.85,0.85,0,1,0,0.85,0A0.85,0.85,0,1,0,-0.85,0Z", "M0,-0.9L1,0.8L-1,0.8Z", "M-0.85,-0.85L0.85,0.85M0.85,-0.85L-0.85,0.85", "M-1,-1H1V1H-1Z"]},
                  "legend": {"title": null, "orient": "none", "legendX": 495, "legendY": 12, "padding": 8, "labelFontSize": 18, "rowPadding": 13.2}},
                "fill": {"field": "group", "type": "nominal", "scale": {"domain": ["No fish", "Smolts", "MYC", "Pre-markets"], "range": ["transparent", "#a3a3a3", "transparent", "#000000"]}},
                "stroke": {"field": "group", "type": "nominal", "scale": {"domain": ["No fish", "Smolts", "MYC", "Pre-markets"], "range": ["#767676", "#505050", "#767676", "#000000"]}}
              }
            },
            {
              "data": {"values": [{"label": "2005"}]},
              "mark": {"type": "text", "fontSize": 26, "fontWeight": "bold", "align": "left", "baseline": "middle"},
              "encoding": {"x": {"datum": 214.1, "type": "quantitative"}, "y": {"datum": 10970, "type": "quantitative"}, "text": {"field": "label"}}
            }
          ]
        }
      ]
    }
  ],
  "config": {
    "font": "Liberation Sans",
    "locale": {"number": {"decimal": ".", "thousands": " ", "grouping": [3], "currency": ["", ""]}},
    "view": {"stroke": "#9a9a9a", "strokeWidth": 1},
    "axis": {
      "grid": false,
      "domainColor": "#8a8a8a",
      "tickColor": "#8a8a8a",
      "labelFont": "Liberation Sans",
      "labelFontSize": 21,
      "labelColor": "#1f1f1f",
      "labelFlush": false,
      "labelOverlap": false,
      "titleFont": "Liberation Sans",
      "titleFontSize": 28.5,
      "titleFontWeight": "bold",
      "titleColor": "#000000"
    },
    "axisX": {"labelPadding": 14},
    "axisY": {"tickSize": 6, "labelPadding": 12, "titlePadding": 16},
    "legend": {
      "direction": "vertical",
      "strokeColor": "#8a8a8a",
      "fillColor": "white",
      "padding": 6,
      "labelFont": "Liberation Sans",
      "labelFontSize": 20,
      "labelColor": "#1f1f1f",
      "symbolSize": 55,
      "symbolStrokeWidth": 1,
      "labelOffset": 1,
      "rowPadding": 11.5
    }
  }
}
